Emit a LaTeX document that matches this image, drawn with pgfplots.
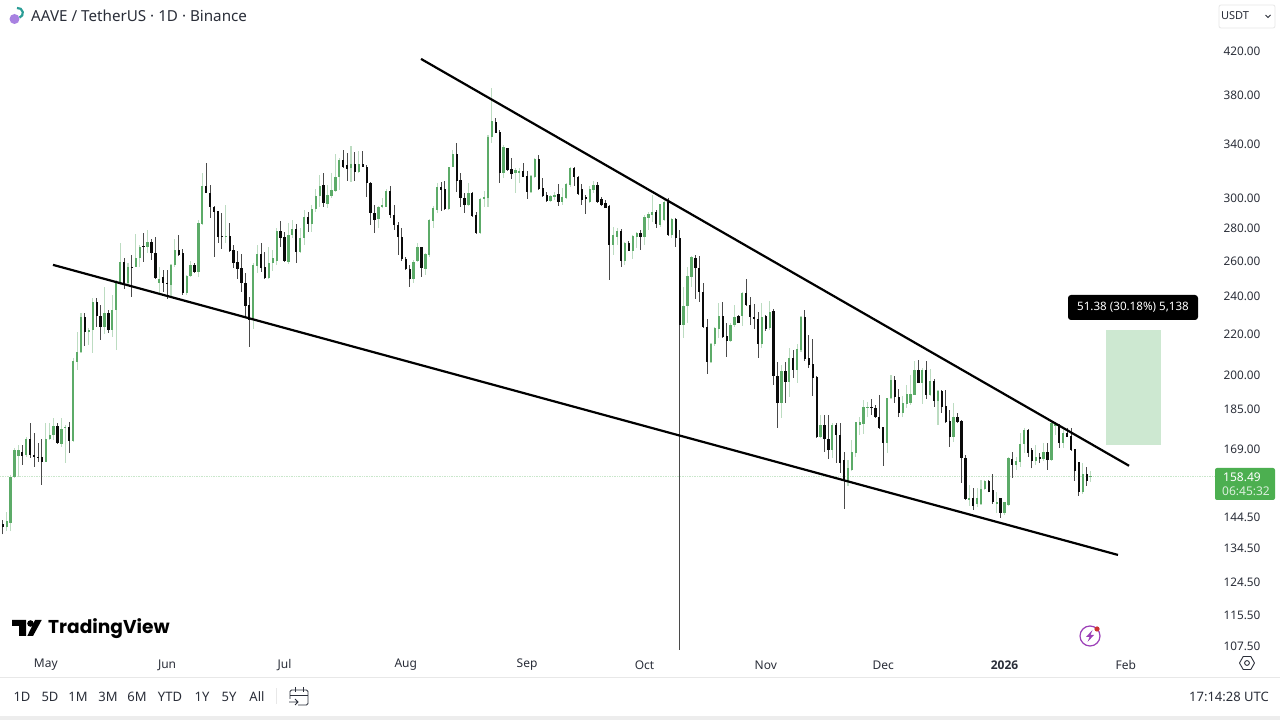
\documentclass[border=0pt]{standalone}
\usepackage{fontspec}
\setmainfont{Noto Sans}
\newfontfamily\logofont{Poppins}
\newfontfamily\yearfont{Open Sans}
\usepackage{pgfplots}
\usepackage{pgfplotstable}
\pgfplotsset{compat=1.18}

\definecolor{upbody}{HTML}{5CAB68}
\definecolor{upwick}{HTML}{BCDCC1}
\definecolor{dnbody}{HTML}{0A0A0A}
\definecolor{dnwick}{HTML}{4A4A4A}
\definecolor{tagbg}{HTML}{4CAF50}
\definecolor{boxbg}{HTML}{CDE8D1}
\definecolor{txt}{HTML}{2A2E39}
\definecolor{sep}{HTML}{E8E8E8}
\definecolor{bolt}{HTML}{9C3FB8}
\definecolor{aavearc}{HTML}{2A9D96}

% d = days since 1 May, then open high low close
\pgfplotstableread{
d o h l c
-11 142.0 143.6 138.8 141.0
-10 141.0 146.2 139.8 143.0
-9 142.6 159.1 139.8 158.4
-8 158.4 169.3 158.0 168.5
-7 166.2 170.4 158.4 168.5
-6 167.7 170.4 162.8 166.2
-5 166.6 173.6 165.8 172.8
-4 172.8 179.2 165.5 166.6
-3 166.6 175.2 162.1 165.8
-2 165.8 171.2 164.0 165.5
-1 165.8 172.8 155.5 164.0
0 164.0 179.2 164.0 172.8
1 172.8 179.2 172.4 174.4
2 174.4 181.2 172.4 178.0
3 178.0 179.2 170.8 171.2
4 170.8 181.2 169.6 176.8
5 177.2 178.4 163.6 177.6
6 177.6 179.6 167.3 172.0
7 172.0 208.0 171.6 206.5
8 206.0 220.7 202.3 210.9
9 210.9 230.5 210.4 228.4
10 228.4 230.5 213.8 220.7
11 220.7 222.7 214.3 221.7
12 221.7 238.6 210.4 236.4
13 236.4 238.6 223.2 229.0
14 229.0 234.8 216.8 223.2
15 223.2 244.7 219.7 230.5
16 230.5 232.1 220.2 221.7
17 221.7 240.2 218.2 232.1
18 232.1 248.6 211.8 247.5
19 247.5 270.6 245.8 259.1
20 259.1 261.5 243.6 246.9
21 246.9 258.5 245.8 256.2
22 256.2 263.3 239.1 255.6
23 256.2 276.3 256.2 261.5
24 261.5 269.4 256.2 268.2
25 268.8 276.9 259.1 268.2
26 268.2 278.8 264.5 271.2
27 271.2 273.1 260.3 264.5
28 264.5 274.4 249.2 249.8
29 246.9 256.2 241.4 249.2
30 250.3 254.4 241.9 246.9
31 246.9 254.4 238.1 246.4
32 245.8 257.9 239.1 257.3
33 257.3 273.1 256.2 266.3
34 266.3 275.6 262.7 263.3
35 264.5 266.9 240.2 241.4
36 241.4 251.4 240.2 250.9
37 250.9 259.7 250.3 257.3
38 257.3 258.5 252.7 253.2
39 253.2 285.2 250.3 283.3
40 282.6 317.6 282.0 308.3
41 308.3 324.9 303.4 303.4
42 303.4 309.0 286.5 293.8
43 293.8 294.5 262.1 290.5
44 291.2 291.2 270.6 274.4
45 275.0 289.8 266.9 274.4
46 274.4 295.2 270.6 275.0
47 275.0 283.3 265.1 265.7
48 266.3 269.4 255.6 258.5
49 259.1 265.7 249.2 255.0
50 255.6 263.9 241.9 246.9
51 246.9 252.7 228.0 234.3
52 234.8 239.1 213.2 226.9
53 226.9 258.5 222.2 257.3
54 256.7 269.4 252.7 263.9
55 263.9 270.6 253.2 255.6
56 256.2 265.1 249.2 249.8
57 249.8 268.2 249.2 258.5
58 258.5 266.3 253.8 261.5
59 259.7 280.0 257.3 278.2
60 278.2 284.6 268.2 273.7
61 274.4 277.5 259.1 259.7
62 259.1 283.3 257.9 275.6
63 275.6 285.2 273.7 279.4
64 279.4 282.6 258.5 265.1
65 265.1 280.0 264.5 273.7
66 273.7 291.8 269.4 287.2
67 287.2 290.5 277.5 282.6
68 282.6 295.2 277.5 292.5
69 292.5 306.2 290.5 301.3
70 301.3 316.1 293.8 308.3
71 309.0 317.6 293.8 296.5
72 295.9 309.0 293.2 302.0
73 301.3 317.6 300.0 305.5
74 304.8 331.8 304.1 314.7
75 314.7 328.7 305.5 327.2
76 327.2 334.8 321.3 322.0
77 323.5 332.5 311.9 320.6
78 321.3 338.0 311.2 324.2
79 324.2 333.3 311.9 318.4
80 318.4 334.0 317.6 324.2
81 324.2 334.0 322.0 322.0
82 322.0 323.5 300.6 310.4
83 310.4 311.2 282.0 289.8
84 289.8 295.2 276.9 285.2
85 285.8 294.5 280.0 293.8
86 293.8 300.0 293.2 295.2
87 293.8 306.2 293.8 304.8
88 304.8 308.3 286.5 288.5
89 288.5 295.2 278.8 282.0
90 282.0 283.9 263.3 274.4
91 274.4 280.0 259.7 260.9
92 260.9 262.1 254.4 255.0
93 255.0 257.3 244.7 249.2
94 249.2 260.3 246.9 259.1
95 259.7 270.6 259.1 268.2
96 268.2 268.2 250.3 255.6
97 255.0 264.5 251.4 263.9
98 263.3 285.8 262.1 285.2
99 284.6 294.5 280.0 293.2
100 291.8 310.4 289.8 307.6
101 307.6 311.2 291.2 305.5
102 306.2 311.9 291.8 292.5
103 292.5 322.0 291.8 322.0
104 322.0 334.8 322.0 331.8
105 331.8 340.2 304.1 311.9
106 312.6 317.6 293.8 300.0
107 300.0 303.4 289.8 295.2
108 295.2 310.4 294.5 303.4
109 303.4 304.1 287.2 287.8
110 288.5 290.5 276.3 276.9
111 276.9 300.0 276.3 299.3
112 299.3 304.8 293.8 300.6
113 300.0 346.5 293.8 345.0
114 345.0 385.9 340.2 357.8
115 357.0 360.2 348.1 348.1
116 348.9 350.5 310.4 317.6
117 317.6 338.7 314.1 337.1
118 336.4 336.4 319.1 319.8
119 320.6 328.7 313.3 316.8
120 317.6 321.3 303.4 319.8
121 317.6 321.3 310.4 319.1
122 319.1 324.9 314.7 314.7
123 315.4 319.1 299.3 304.1
124 304.1 316.1 303.4 315.4
125 314.7 328.7 314.1 328.0
126 328.0 331.0 305.5 306.2
127 306.9 314.1 300.6 301.3
128 302.0 304.1 297.2 297.9
129 297.9 302.0 297.2 301.3
130 300.6 304.1 298.6 302.0
131 302.7 309.7 294.5 297.2
132 297.2 306.9 295.2 300.6
133 300.0 310.4 299.3 309.7
134 309.0 322.0 307.6 321.3
135 321.3 322.0 308.3 314.7
136 314.7 315.4 302.0 302.7
137 306.2 309.7 295.2 298.6
138 300.6 302.0 289.2 299.3
139 297.2 308.3 296.5 306.2
140 305.5 311.9 303.4 309.0
141 309.0 311.2 296.5 297.2
142 299.3 300.6 294.5 295.2
143 296.5 298.6 293.2 293.2
144 294.5 295.2 248.6 269.4
145 269.4 280.7 263.3 275.6
146 274.4 280.0 269.4 278.2
147 278.2 279.4 256.2 259.7
148 259.7 271.2 257.3 270.6
149 270.6 271.9 265.7 265.7
150 265.7 275.6 260.9 275.0
151 274.4 277.5 267.5 276.9
152 276.9 278.8 266.3 274.4
153 274.4 288.5 269.4 287.2
154 286.5 290.5 278.8 289.2
155 288.5 302.0 283.9 290.5
156 290.5 291.8 280.0 282.6
157 282.0 295.9 280.7 295.9
158 285.2 300.0 284.6 297.2
159 297.2 300.0 275.0 275.6
160 275.6 286.5 273.7 285.8
161 285.8 286.5 268.2 273.7
162 273.7 278.8 104.0 224.3
163 224.3 244.7 217.8 234.3
164 234.3 256.2 225.3 250.9
165 250.3 262.7 244.7 262.1
166 261.5 263.3 238.1 255.6
167 255.6 262.7 236.4 241.9
168 241.9 246.9 222.7 223.2
169 223.2 227.4 200.5 206.0
170 206.0 215.3 205.5 214.8
171 214.8 223.2 213.8 222.7
172 222.2 235.9 217.8 229.0
173 229.0 236.4 217.8 218.2
174 218.7 225.3 208.4 216.3
175 216.3 225.3 215.8 224.3
176 224.3 234.8 223.2 228.4
177 229.0 229.5 225.3 225.3
178 229.0 241.9 223.7 241.4
179 241.4 249.2 234.3 234.8
180 234.8 239.1 224.3 228.4
181 228.4 235.4 222.2 227.4
182 227.4 231.0 208.0 214.8
183 214.8 235.9 212.8 228.4
184 229.0 229.5 221.2 222.2
185 222.7 236.9 221.7 231.0
186 231.5 232.6 195.6 199.6
187 199.6 206.0 177.2 187.6
188 187.6 204.7 181.2 201.8
189 201.8 206.0 187.6 196.9
190 196.9 212.8 190.3 207.9
191 207.9 211.8 198.7 202.3
192 202.3 214.8 196.5 212.3
193 211.8 229.0 210.9 228.4
194 228.4 232.1 206.5 207.5
195 207.9 219.2 203.2 204.7
196 205.1 217.3 190.6 198.7
197 199.2 199.6 173.2 173.6
198 173.6 182.5 173.2 178.4
199 178.4 182.5 167.7 172.8
200 172.8 182.5 165.1 168.5
201 168.5 179.2 165.5 178.4
202 178.4 179.2 163.6 174.4
203 174.4 179.2 159.9 163.6
204 164.7 167.7 147.2 157.0
205 157.0 164.7 155.2 161.4
206 161.0 172.4 160.3 167.7
207 167.3 179.6 165.8 179.6
208 178.4 181.6 174.4 179.6
209 178.8 188.9 174.8 185.9
210 185.5 188.0 181.6 185.9
211 185.9 189.3 182.5 185.5
212 185.5 186.8 181.2 181.6
213 181.6 191.1 176.8 177.2
214 177.6 177.6 162.5 171.2
215 171.2 189.8 167.3 189.8
216 189.8 200.0 189.3 197.8
217 197.8 199.6 187.6 190.3
218 190.3 193.7 181.6 183.3
219 183.3 190.6 181.6 187.6
220 187.2 195.6 185.5 191.5
221 187.6 200.0 186.8 191.5
222 191.1 206.5 191.1 202.3
223 202.3 207.0 196.5 196.5
224 196.5 203.2 187.2 202.3
225 202.3 206.5 189.3 191.1
226 191.1 202.8 190.6 197.3
227 197.3 198.3 185.9 188.5
228 188.5 193.3 178.4 192.9
229 192.9 193.3 183.3 185.9
230 186.4 193.3 179.2 179.6
231 180.0 184.6 169.6 173.6
232 173.6 187.6 171.6 181.6
233 181.6 183.3 179.2 179.6
234 180.0 180.4 156.2 165.5
235 165.5 166.6 150.3 150.6
236 150.3 155.5 148.2 151.0
237 151.0 154.5 146.9 148.2
238 148.9 154.5 147.9 151.0
239 148.9 157.3 148.6 154.1
240 154.1 157.3 153.8 156.9
241 156.9 157.3 152.8 153.1
242 153.8 159.5 148.9 149.3
243 148.9 152.8 145.9 149.3
244 151.0 151.0 144.2 145.9
245 145.9 149.6 145.2 149.3
246 148.6 165.8 148.2 165.5
247 165.1 167.7 158.0 162.8
248 162.8 165.8 161.0 164.3
249 163.9 175.2 162.1 170.8
250 170.8 177.2 167.3 176.4
251 176.4 176.8 165.8 167.3
252 168.5 169.3 161.4 164.3
253 164.3 170.4 162.8 165.8
254 165.8 167.3 163.6 165.1
255 165.1 171.2 164.3 167.7
256 167.7 171.2 161.0 164.7
257 164.7 180.0 164.3 179.2
258 178.0 179.6 174.4 178.8
259 178.4 178.8 169.3 171.2
260 171.2 177.6 169.3 175.2
261 175.2 177.2 173.6 173.6
262 174.0 177.2 168.1 168.5
263 168.9 168.9 157.0 160.3
264 164.0 164.0 151.6 152.8
265 152.8 163.6 152.4 159.5
266 159.5 162.1 155.2 156.9
267 158.1 160.3 156.6 158.49
}\candles

% collect high-low and open-close segments per colour, broken by nan rows
\gdef\upwicks{}\gdef\dnwicks{}\gdef\upbodies{}\gdef\dnbodies{}
\pgfplotstablegetrowsof{\candles}
\pgfmathtruncatemacro\lastrow{\pgfplotsretval-1}
\foreach \r in {0,...,\lastrow}{
  \pgfplotstablegetelem{\r}{d}\of\candles\let\vd\pgfplotsretval
  \pgfplotstablegetelem{\r}{o}\of\candles\let\vo\pgfplotsretval
  \pgfplotstablegetelem{\r}{h}\of\candles\let\vh\pgfplotsretval
  \pgfplotstablegetelem{\r}{l}\of\candles\let\vl\pgfplotsretval
  \pgfplotstablegetelem{\r}{c}\of\candles\let\vc\pgfplotsretval
  \pgfmathparse{\vc>=\vo ? 1 : 0}
  \ifdim\pgfmathresult pt>0.5pt
    \xdef\upwicks{\upwicks(\vd,\vl)(\vd,\vh)(\vd,nan)}
    \xdef\upbodies{\upbodies(\vd,\vo)(\vd,\vc)(\vd,nan)}
  \else
    \xdef\dnwicks{\dnwicks(\vd,\vl)(\vd,\vh)(\vd,nan)}
    \xdef\dnbodies{\dnbodies(\vd,\vc)(\vd,\vo)(\vd,nan)}
  \fi
}

\begin{document}
\begin{tikzpicture}
\fill[white] (0pt,0pt) rectangle (1280pt,720pt);
\useasboundingbox (0pt,0pt) rectangle (1280pt,720pt);

\begin{axis}[
  at={(0pt,70pt)}, anchor=south west,
  scale only axis, width=1215pt, height=650pt,
  disabledatascaling,
  ymode=log,
  xmin=-11.7, xmax=298.8,
  ymin=106.5, ymax=472,
  unbounded coords=jump,
  axis line style={draw=none},
  tick style={draw=none},
  yticklabel pos=right,
  ytick={107.5,115.5,124.5,134.5,144.5,169,185,200,220,240,260,280,300,340,380,420},
  yticklabels={107.50,115.50,124.50,134.50,144.50,169.00,185.00,200.00,220.00,240.00,260.00,280.00,300.00,340.00,380.00,420.00},
  yticklabel style={anchor=west, xshift=5pt, yshift=-0.7pt, text=txt, font=\fontsize{11.8}{14}\selectfont},
  xtick={0,31,61,92,123,153,184,214,245,276},
  xticklabels={May,Jun,Jul,Aug,Sep,Oct,Nov,Dec,{\yearfont\bfseries 2026},Feb},
  xticklabel style={anchor=center, yshift=-15pt, text=txt, font=\fontsize{12}{14}\selectfont},
]
% target box
\addplot[fill=boxbg, draw=none] coordinates {(270.95,170.24)(285.0,170.24)(285.0,221.62)(270.95,221.62)} -- cycle;
% last price line
\addplot[color=tagbg!30, densely dotted, line width=0.7pt] coordinates {(-11.7,158.49)(298.8,158.49)};

% wicks
\edef\tmp{\noexpand\addplot[upwick, line width=1.1pt] coordinates {\upwicks};}\tmp
\edef\tmp{\noexpand\addplot[dnwick, line width=0.9pt] coordinates {\dnwicks};}\tmp
% bodies
\edef\tmp{\noexpand\addplot[upbody, line width=2.3pt] coordinates {\upbodies};}\tmp
\edef\tmp{\noexpand\addplot[dnbody, line width=2.3pt] coordinates {\dnbodies};}\tmp

% wedge lines
\addplot[black, line width=2.2pt] coordinates {(95.89,412.4)(276.83,162.4)};
\addplot[black, line width=2.2pt] coordinates {(1.84,257.3)(274.0,132.4)};
\end{axis}

\begin{scope}[x=1pt,y=1pt]
% top bar
\fill[bolt!70!blue!60!white] (14.5,701) circle (5);
\draw[aavearc, line width=2.2pt] (17,712) arc (100:-70:5);
\node[anchor=west, text=txt, inner sep=0pt, font=\fontsize{15.2}{18}\selectfont] at (31,704) {AAVE / TetherUS · 1D · Binance};
\draw[sep, line width=0.8pt, rounded corners=2pt] (1219,692) rectangle (1275,715);
\node[text=txt, inner sep=0pt, font=\fontsize{11}{13}\selectfont] at (1235,704) {USDT};
\draw[txt, line width=0.8pt] (1265.5,705) -- (1268,702.5) -- (1270.5,705);

% logo
\fill[black] (12,100) -- (26,100) -- (26,84) -- (19,84) -- (19,94) -- (12,94) -- cycle;
\fill[black] (30.5,96.5) circle (3.3);
\fill[black] (35,100) -- (41.7,100) -- (33,84) -- (27.3,84) -- cycle;
\node[anchor=west, inner sep=0pt, font=\logofont\bfseries\fontsize{18.6}{22}\selectfont] at (48,91) {TradingView};

% price box labels
\fill[black, rounded corners=3pt] (1068,400) rectangle (1198,425);
\node[text=white, inner sep=0pt, font=\fontsize{11.6}{14}\selectfont] at (1133,413) {51.38 (30.18\%) 5,138};
\fill[tagbg, rounded corners=2pt] (1215,220) rectangle (1275,252);
\node[text=white, inner sep=0pt, font=\fontsize{12}{14}\selectfont] at (1242,243) {158.49};
\node[text=white!80!tagbg, inner sep=0pt, font=\fontsize{12}{14}\selectfont] at (1246,229) {06:45:32};

% flash icon
\draw[bolt, line width=1.2pt] (1090,84) circle (10);
\fill[bolt] (1092.5,90) -- (1086,83) -- (1089.5,83) -- (1087.5,78) -- (1094,85) -- (1090.5,85) -- cycle;
\fill[red!75!black!80!white] (1097,91) circle (2.6);

% settings icon
\draw[txt, line width=0.9pt, line join=round] (1254.5,57) -- (1250.8,63.5) -- (1243.2,63.5) -- (1239.5,57) -- (1243.2,50.5) -- (1250.8,50.5) -- cycle;
\draw[txt, line width=0.9pt] (1247,57) circle (2.4);

% bottom bar
\draw[sep, line width=0.8pt] (0,43) -- (1280,43);
\fill[sep!80!white] (0,0) rectangle (1280,3.5);
\foreach \xx/\lab in {22/1D,50/5D,78/1M,108/3M,137/6M,170/YTD,202/1Y,229/5Y,257/All}
  \node[text=txt, inner sep=0pt, font=\fontsize{13}{15}\selectfont] at (\xx,23) {\lab};
\draw[sep, line width=0.8pt] (276,16) -- (276,32);
\draw[txt, line width=0.9pt, rounded corners=1.5pt] (290,21) -- (290,30) -- (308,30) -- (308,15) -- (298,15);
\draw[txt, line width=0.9pt] (290,25) -- (308,25) (295,33) -- (295,28) (303,33) -- (303,28);
\draw[txt, line width=0.9pt] (289,18) -- (298,18) (295,21) -- (298,18) -- (295,15);
\node[anchor=east, text=txt, inner sep=0pt, font=\fontsize{13}{15}\selectfont] at (1269,23) {17:14:28 UTC};
\end{scope}
\end{tikzpicture}
\end{document}
